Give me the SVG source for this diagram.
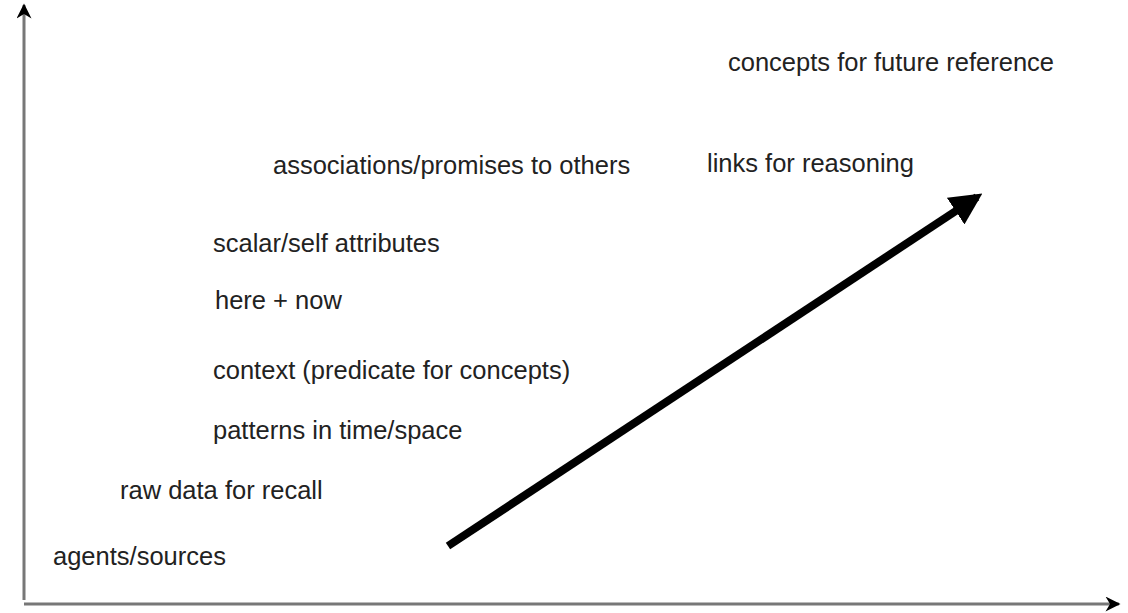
<svg xmlns="http://www.w3.org/2000/svg" width="1128" height="613" viewBox="0 0 1128 613">
<defs>
<style>
.lbl{font-family:"Liberation Sans",Arial,sans-serif;font-size:25.5px;fill:#222}
.axis{stroke:#777;stroke-width:3;fill:none}
</style>
<marker id="ah" viewBox="0 0 10 10" refX="9" refY="5" markerWidth="16" markerHeight="15" markerUnits="userSpaceOnUse" orient="auto">
<path d="M0,0 L10,5 L0,10 L3,5 Z" fill="#000"/>
</marker>
<marker id="big" viewBox="0 0 10 10" refX="8" refY="5" markerWidth="4" markerHeight="4" orient="auto">
<path d="M0,0 L10,5 L0,10 Z" fill="#000"/>
</marker>
</defs>
<rect width="1128" height="613" fill="#fff"/>
<g id="connectors">
<line class="axis" x1="24" y1="600" x2="24" y2="5" marker-end="url(#ah)"/>
<line class="axis" x1="24" y1="604" x2="1119" y2="604" marker-end="url(#ah)"/>
<line x1="448" y1="546" x2="977" y2="197" stroke="#000" stroke-width="8" marker-end="url(#big)"/>
</g>
<g id="agents"><text class="lbl" x="53" y="565">agents/sources</text></g>
<g id="raw"><text class="lbl" x="120" y="499">raw data for recall</text></g>
<g id="patterns"><text class="lbl" x="213" y="439">patterns in time/space</text></g>
<g id="context"><text class="lbl" x="213" y="379">context (predicate for concepts)</text></g>
<g id="here"><text class="lbl" x="215" y="309">here + now</text></g>
<g id="scalar"><text class="lbl" x="213" y="252">scalar/self attributes</text></g>
<g id="assoc"><text class="lbl" x="273" y="174">associations/promises to others</text></g>
<g id="links"><text class="lbl" x="707" y="172">links for reasoning</text></g>
<g id="concepts"><text class="lbl" x="728" y="71">concepts for future reference</text></g>
</svg>
